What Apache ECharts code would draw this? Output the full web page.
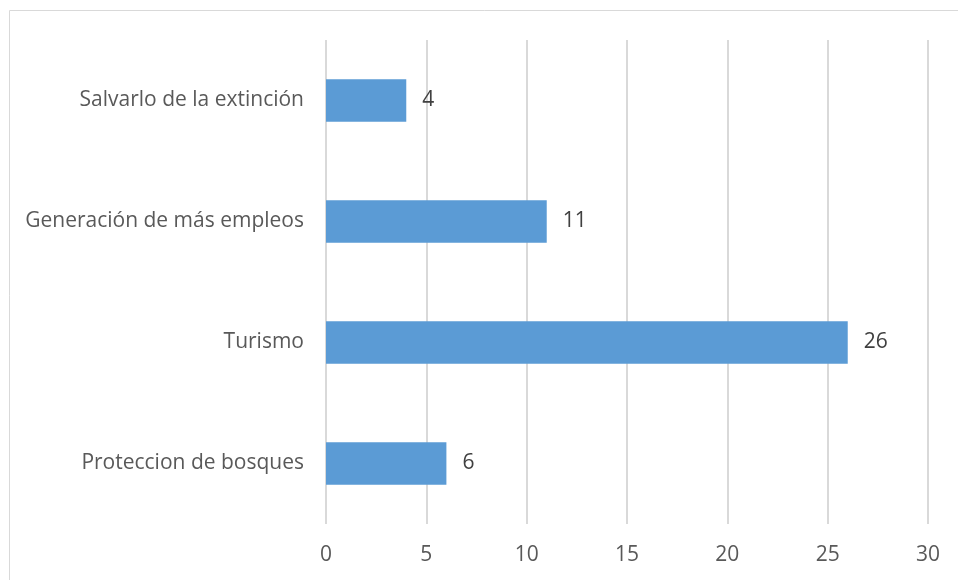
<!DOCTYPE html>
<html>
<head>
<meta charset="utf-8">
<script src="https://cdn.jsdelivr.net/npm/echarts@6/dist/echarts.min.js"></script>
<style>
  html, body { margin: 0; padding: 0; background: #fff; }
  #chart { width: 958px; height: 580px; }
</style>
</head>
<body>
<div id="chart"></div>
<script>
// Categories listed bottom-to-top, as the category axis draws them
const categories = [
  'Proteccion de bosques',
  'Turismo',
  'Generación de más empleos',
  'Salvarlo de la extinción'
];
const values = [6, 26, 11, 4];
const xTicks = [0, 5, 10, 15, 20, 25, 30];

const chart = echarts.init(document.getElementById('chart'), null, { renderer: 'canvas' });

const font = '"Open Sans", "Noto Sans", sans-serif';

chart.setOption({
  animation: false,
  graphic: [{
    type: 'rect',
    shape: { x: 9.5, y: 10.5, width: 960, height: 580 },
    style: { fill: 'none', stroke: '#d9d9d9', lineWidth: 1 },
    silent: true
  }],
  grid: { left: 326, right: 30, top: 40, bottom: 56 },
  xAxis: {
    type: 'value',
    min: xTicks[0],
    max: xTicks[xTicks.length - 1],
    interval: xTicks[1] - xTicks[0],
    axisLine: { show: false },
    axisTick: { show: false },
    splitLine: { show: true, lineStyle: { color: '#d9d9d9', width: 2 } },
    axisLabel: {
      color: '#595959',
      fontFamily: font,
      fontSize: 21,
      margin: 21
    }
  },
  yAxis: {
    type: 'category',
    data: categories,
    axisLine: { show: false },
    axisTick: { show: false },
    axisLabel: {
      color: '#595959',
      fontFamily: font,
      fontSize: 21,
      margin: 22
    }
  },
  series: [{
    type: 'bar',
    data: values,
    barCategoryGap: '65%',
    itemStyle: { color: '#5b9bd5' },
    label: {
      show: true,
      position: 'right',
      distance: 16,
      color: '#404040',
      fontFamily: font,
      fontSize: 21
    }
  }]
});
</script>
</body>
</html>
